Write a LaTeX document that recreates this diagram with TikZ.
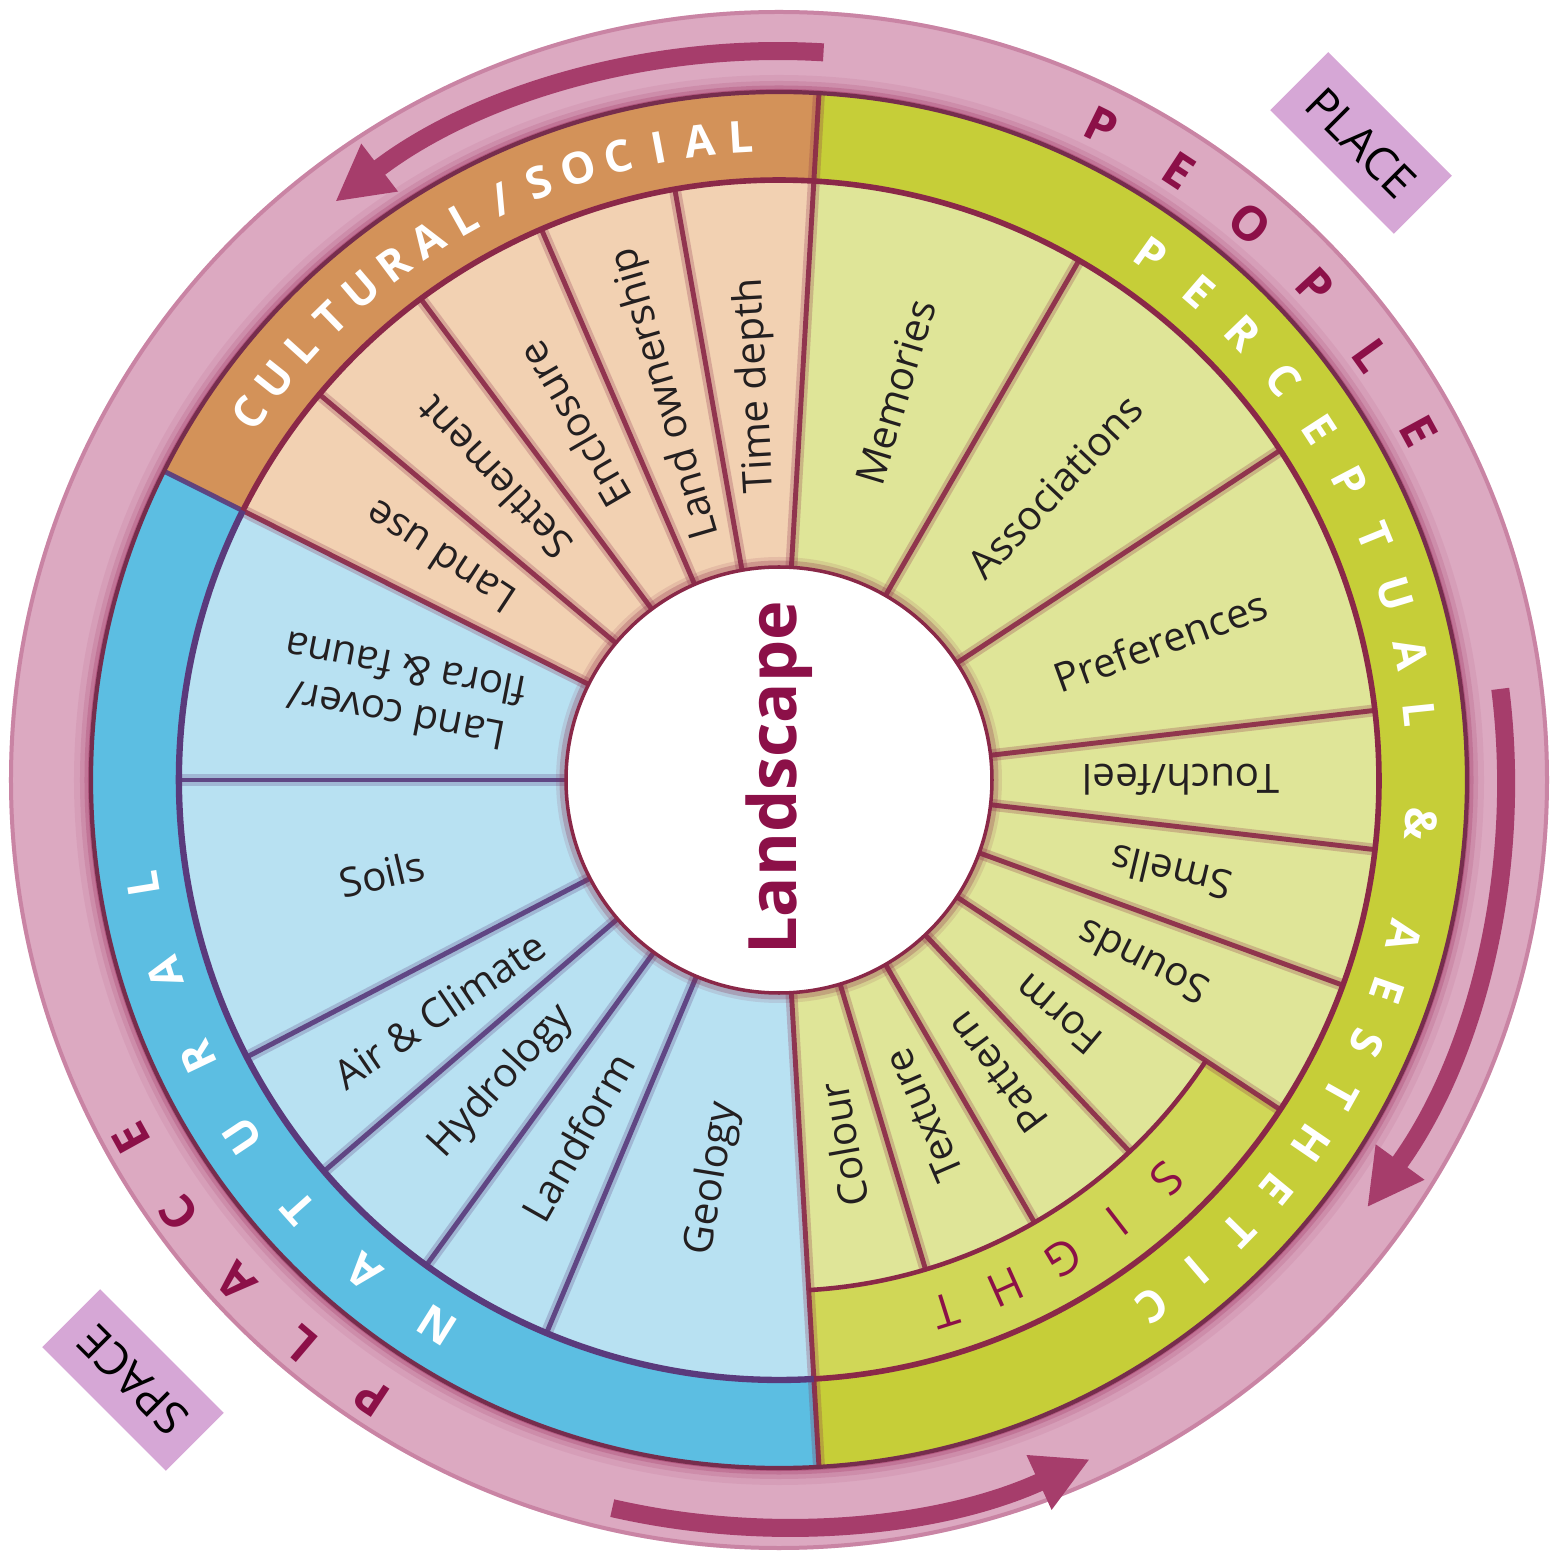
\documentclass[tikz,border=0pt]{standalone}
\usepackage{fontspec}
\setmainfont{Open Sans}
\usetikzlibrary{arrows.meta}

\definecolor{ink}{HTML}{231F20}
\definecolor{wine}{HTML}{8C1048}
\definecolor{pinkring}{HTML}{DCA9C1}
\definecolor{pinkedge}{HTML}{A8406E}
\definecolor{arrowcol}{HTML}{A63D6B}
\definecolor{lilac}{HTML}{D6A7D6}
\definecolor{orangering}{HTML}{D39259}
\definecolor{orangepart}{HTML}{F2D1B2}
\definecolor{bluering}{HTML}{5CBEE2}
\definecolor{bluepart}{HTML}{B8E1F2}
\definecolor{greenring}{HTML}{C6CE38}
\definecolor{greenpart}{HTML}{DFE598}
\definecolor{sightring}{HTML}{D0D757}
\definecolor{divred}{HTML}{8A2848}
\definecolor{divblue}{HTML}{5A3A7C}

\newcommand{\ringpart}[5]{%
  \fill[#1] (#2:#4) arc[start angle=#2,end angle=#3,radius=#4]
    -- (#3:#5) arc[start angle=#3,end angle=#2,radius=#5] -- cycle;}

\begin{document}
\begin{tikzpicture}[
    lbl/.style={font=\fontsize{11.5}{13.5}\selectfont,text=ink,align=center,inner sep=0pt},
    ringchar/.style={font=\fontsize{12.5}{14}\selectfont\bfseries,text=white,inner sep=0pt},
    sightchar/.style={font=\fontsize{13}{15}\selectfont,text=wine,inner sep=0pt},
    outchar/.style={font=\fontsize{13.5}{15}\selectfont\bfseries,text=wine,inner sep=0pt},
    tag/.style={fill=lilac,minimum width=1.75cm,minimum height=0.82cm,inner sep=0pt,font=\fontsize{13}{15}\selectfont,text=black},
    bar/.style={draw=arrowcol,line width=0.18cm,-{Triangle[width=0.56cm,length=0.56cm]}},
    divsoft/.style={line width=3.4pt,opacity=0.25},
    divcore/.style={line width=1.4pt,opacity=0.9}
]
\useasboundingbox (-7.79,-7.76) rectangle (7.72,7.80);

\fill[pinkring] (0,0) circle (7.70);
\draw[pinkedge,opacity=0.35,line width=0.04cm] (0,0) circle (7.68);
\foreach \w/\o in {0.34/0.10,0.22/0.18,0.13/0.30,0.06/0.55}
  \draw[pinkedge,opacity=\o,line width=\w cm] (0,0) circle (6.88);

\ringpart{orangering}{86.667}{153.333}{6.00}{6.88}
\ringpart{bluering}{153.333}{273.333}{6.00}{6.88}
\ringpart{greenring}{-86.667}{86.667}{6.00}{6.88}

\ringpart{orangepart}{86.667}{153.333}{2.13}{6.00}
\ringpart{bluepart}{153.333}{273.333}{2.13}{6.00}
\ringpart{greenpart}{-86.667}{86.667}{2.13}{6.00}
\ringpart{sightring}{-86.667}{-33.333}{5.11}{6.00}

\foreach \a in {100,113.333,126.667,140,153.333,-20,-6.667,6.667,33.333,60,-33.333} {
  \draw[divred,divsoft] (\a:2.13) -- (\a:6.00);
  \draw[divred,divcore] (\a:2.13) -- (\a:6.00);
}
\foreach \a in {-73.333,-60,-46.667} {
  \draw[divred,divsoft] (\a:2.13) -- (\a:5.11);
  \draw[divred,divcore] (\a:2.13) -- (\a:5.11);
}
\foreach \a in {180,207.5,220.7,234,247.2} {
  \draw[divblue,divsoft] (\a:2.13) -- (\a:6.00);
  \draw[divblue,divcore] (\a:2.13) -- (\a:6.00);
}
\foreach \a in {86.667,-86.667} {
  \draw[divred,divsoft] (\a:2.13) -- (\a:6.88);
  \draw[divred,divcore] (\a:2.13) -- (\a:6.88);
}
\draw[divblue,divcore] (153.333:6.00) -- (153.333:6.88);

\draw[divred,line width=1.6pt] (86.667:6.00) arc[start angle=86.667,end angle=153.333,radius=6.00];
\draw[divblue,line width=1.8pt] (153.333:6.00) arc[start angle=153.333,end angle=273.333,radius=6.00];
\draw[divred,line width=1.6pt] (-86.667:6.00) arc[start angle=-86.667,end angle=86.667,radius=6.00];
\draw[divred,line width=1.3pt] (-86.667:5.11) arc[start angle=-86.667,end angle=-33.333,radius=5.11];
\draw[pinkedge!70!black,line width=1.2pt] (0,0) circle (6.88);

\foreach \w/\o in {0.16/0.12,0.09/0.25} \draw[divred,opacity=\o,line width=\w cm] (0,0) circle (2.15);
\node[circle,fill=white,draw=divred,line width=1pt,minimum size=4.26cm,inner sep=0pt] (hub) at (0,0) {};
\node[rotate=90,font=\fontsize{19}{22}\selectfont\bfseries,text=wine] (land) at (0,0.02) {Landscape};

\foreach \ang/\rad/\rot/\txt [count=\i] in {
    93.3/3.95/93.3/{Time depth},
    106.2/4.03/106.2/{Land ownership},
    120/4.10/120/{Enclosure},
    133.3/4.15/133.3/{Settlement},
    146.7/4.05/146.7/{Land use},
    167/3.88/169/{Land cover/\\flora \& fauna},
    193.3/4.08/13.3/{Soils},
    214.1/4.10/34.1/{Air \& Climate},
    227.4/4.10/47.4/{Hydrology},
    240.6/4.10/60.6/{Landform},
    260.6/4.04/80.6/{Geology},
    280/3.70/100/{Colour},
    293.3/3.65/113.3/{Texture},
    306.7/3.65/126.7/{Pattern},
    320/3.65/140/{Form},
    333.3/4.07/153.3/{Sounds},
    346.7/4.03/166.7/{Smells},
    0/4.02/180/{Touch/feel},
    20/4.06/20/{Preferences},
    46.7/4.03/46.7/{Associations},
    73.3/4.05/73.3/{Memories}}
  \node[lbl,rotate=\rot] (part\i) at (\ang:\rad) {\txt};

\foreach \ch [count=\i] in {C,U,L,T,U,R,A,L,{/},S,O,C,I,A,L} {
  \pgfmathsetmacro\ang{145.3-3.71*(\i-1)}
  \node[ringchar,rotate=\ang-90] (cul\i) at (\ang:6.44) {\ch};
}
\foreach \ch [count=\i] in {N,A,T,U,R,A,L} {
  \pgfmathsetmacro\ang{237.9-8.1*(\i-1)}
  \node[ringchar,rotate=\ang-90] (nat\i) at (\ang:6.44) {\ch};
}
\foreach \ch/\ang [count=\i] in {P/54.7,E/49.3,R/43.9,C/38.4,E/33.0,P/27.6,T/22.2,U/16.8,A/11.3,L/5.9,
    {\&}/-3.9,A/-14,E/-19.1,S/-24.1,T/-29.2,H/-34.3,E/-39.4,T/-44.4,I/-49.5,C/-54.6}
  \node[ringchar,rotate=\ang-90] (per\i) at (\ang:6.44) {\ch};
\foreach \ch [count=\i] in {S,I,G,H,T} {
  \pgfmathsetmacro\ang{-45.8-6.7*(\i-1)}
  \node[sightchar,rotate=\ang-90] (sig\i) at (\ang:5.56) {\ch};
}
\foreach \ch [count=\i] in {P,E,O,P,L,E} {
  \pgfmathsetmacro\ang{63.8-7.04*(\i-1)}
  \node[outchar,rotate=\ang-90] (ppl\i) at (\ang:7.29) {\ch};
}
\foreach \ch [count=\i] in {P,L,A,C,E} {
  \pgfmathsetmacro\ang{236.6-6.92*(\i-1)}
  \node[outchar,rotate=\ang-90] (plc\i) at (\ang:7.40) {\ch};
}

\draw[bar] (86.5:7.29) arc[start angle=86.5,end angle=127.5,radius=7.29];
\draw[bar] (7.2:7.27) arc[start angle=7.2,end angle=-36,radius=7.27];
\draw[bar] (257.1:7.47) arc[start angle=257.1,end angle=294.6,radius=7.47];

\node[tag,rotate=-45] (place) at (5.82,6.37) {PLACE};
\node[tag,rotate=135] (space) at (-6.46,-6.00) {SPACE};

\end{tikzpicture}
\end{document}
